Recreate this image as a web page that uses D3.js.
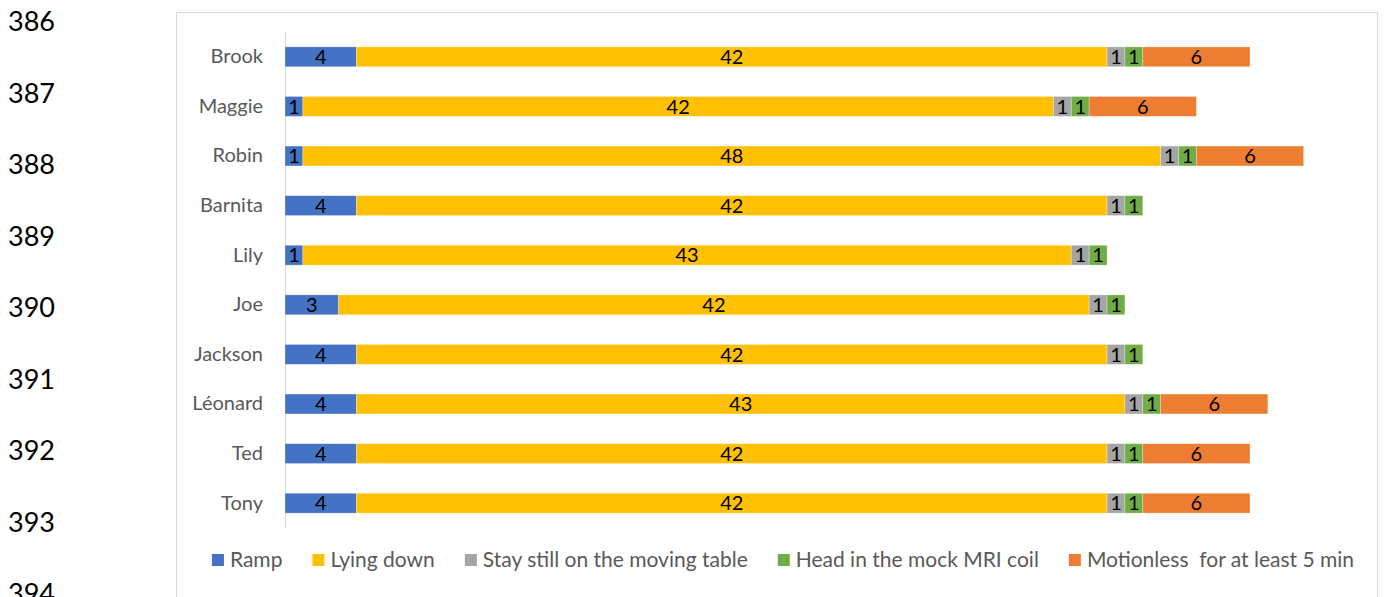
<!DOCTYPE html>
<html>
<head>
<meta charset="utf-8">
<script src="https://cdn.jsdelivr.net/npm/d3@7"></script>
<style>
  body { margin: 0; background: #fff; }
  svg { display: block; }
</style>
</head>
<body>
<svg id="chart" width="1385" height="597"></svg>
<script>
// participants, top to bottom
const names = ["Brook", "Maggie", "Robin", "Barnita", "Lily", "Joe", "Jackson", "Léonard", "Ted", "Tony"];
const stepNames = ["Ramp", "Lying down", "Stay still on the moving table", "Head in the mock MRI coil", "Motionless  for at least 5 min"];
const ramp       = [4, 1, 1, 4, 1, 3, 4, 4, 4, 4];
const lyingDown  = [42, 42, 48, 42, 43, 42, 42, 43, 42, 42];
const stayStill  = [1, 1, 1, 1, 1, 1, 1, 1, 1, 1];
const headInCoil = [1, 1, 1, 1, 1, 1, 1, 1, 1, 1];
const motionless = [6, 6, 6, 0, 0, 0, 0, 6, 6, 6];
const lineNumbers = [386, 387, 388, 389, 390, 391, 392, 393, 394];

const colors = ["#4472c4", "#ffc000", "#a5a5a5", "#70ad47", "#ed7d31"];
const font = "Lato, 'Liberation Sans', sans-serif";

const svg = d3.select("#chart");

// document line numbers on the left margin
const ln = d3.scaleLinear().domain([386, 394]).range([22, 594]);
svg.selectAll("text.lineno")
    .data(lineNumbers)
    .enter()
    .append("text")
    .attr("class", "lineno")
    .attr("x", 8)
    .attr("y", d => ln(d))
    .attr("dy", "0.35em")
    .style("font-family", font)
    .style("font-size", "27px")
    .attr("fill", "#000")
    .text(d => d);

// chart frame
svg.append("rect")
    .attr("x", 176.5)
    .attr("y", 12.5)
    .attr("width", 1201)
    .attr("height", 600)
    .attr("fill", "#fff")
    .attr("stroke", "#d9d9d9");

const rows = names.map((n, i) => ({
    name: n,
    values: [ramp[i], lyingDown[i], stayStill[i], headInCoil[i], motionless[i]]
}));

const x = d3.scaleLinear().domain([0, 54]).range([285, 1250]);
const y = d3.scaleBand().domain(names).range([32, 528]).paddingInner(0.6).paddingOuter(0.3);

// axis line + category labels
const yAxis = d3.axisLeft(y).tickSize(0).tickPadding(22);
const ga = svg.append("g").attr("transform", `translate(${x(0)},0)`).call(yAxis);
ga.select(".domain").attr("stroke", "#d9d9d9").attr("d", `M0.5,32V528`);
ga.selectAll("text")
    .style("font-family", font)
    .style("font-size", "20px")
    .attr("fill", "#595959");

// stacked segments
const segs = [];
rows.forEach(r => {
    let acc = 0;
    r.values.forEach((v, k) => {
        if (v > 0) segs.push({ name: r.name, k, v, x0: acc, x1: acc + v });
        acc += v;
    });
});

svg.append("g").selectAll("rect")
    .data(segs)
    .enter()
    .append("rect")
    .attr("x", d => x(d.x0))
    .attr("y", d => y(d.name))
    .attr("width", d => x(d.x1) - x(d.x0))
    .attr("height", y.bandwidth())
    .attr("fill", d => colors[d.k])
    .attr("stroke", "#fff")
    .attr("stroke-opacity", 0.35)
    .attr("stroke-width", 0.8);

svg.append("g").selectAll("text")
    .data(segs)
    .enter()
    .append("text")
    .attr("x", d => (x(d.x0) + x(d.x1)) / 2)
    .attr("y", d => y(d.name) + y.bandwidth() / 2)
    .attr("dy", "0.36em")
    .attr("text-anchor", "middle")
    .style("font-family", font)
    .style("font-size", "20px")
    .attr("fill", "#000")
    .text(d => d.v);

// legend
const legend = svg.append("g").attr("transform", "translate(0,560)");
const items = legend.selectAll("g")
    .data(stepNames)
    .enter()
    .append("g");
items.append("rect")
    .attr("width", 12)
    .attr("height", 12)
    .attr("y", -6)
    .attr("fill", (d, i) => colors[i]);
items.append("text")
    .attr("x", 18)
    .attr("dy", "0.35em")
    .style("font-family", font)
    .style("font-size", "21px")
    .style("white-space", "pre")
    .attr("fill", "#595959")
    .text(d => d);

const gap = 30;
const widths = items.nodes().map(n => n.getBBox().width);
const total = d3.sum(widths) + gap * (widths.length - 1);
let lx = 783 - total / 2;
items.each(function(d, i) {
    d3.select(this).attr("transform", `translate(${lx},0)`);
    lx += widths[i] + gap;
});
</script>
</body>
</html>
